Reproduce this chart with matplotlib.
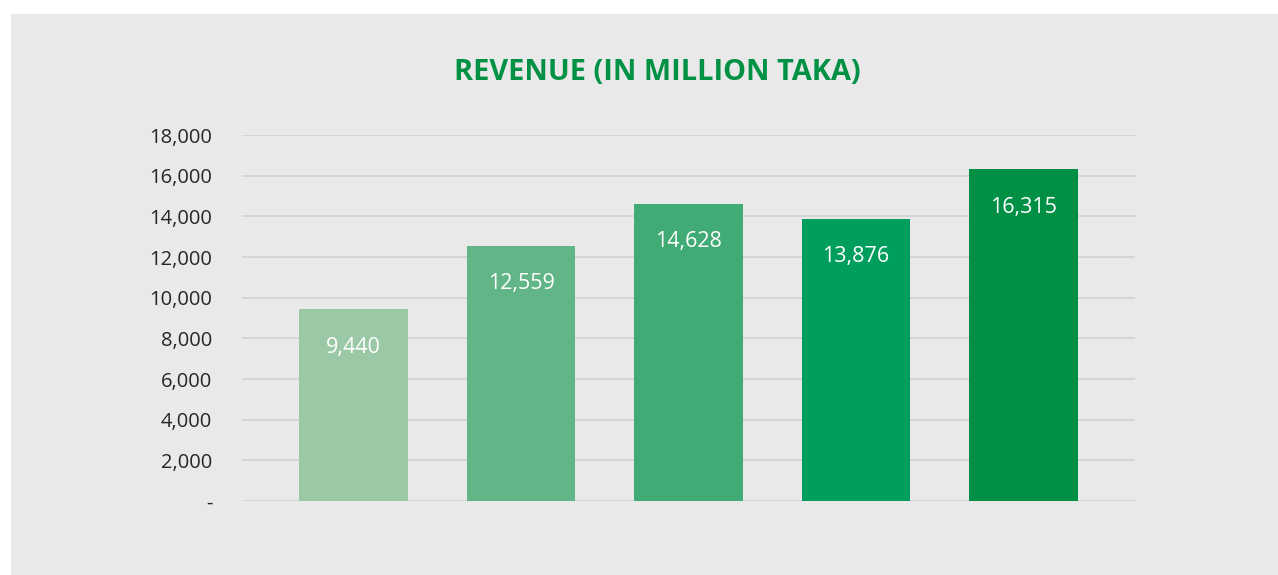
import matplotlib.pyplot as plt
from matplotlib.patches import Rectangle
from matplotlib.ticker import FuncFormatter

years = ['2015', '2016', '2017', '2018', '2019']
revenue = [9440, 12559, 14628, 13876, 16315]
bar_colors = ['#9BC9A6', '#61B586', '#41AB75', '#009E5D', '#009045']
yticks = [0, 2000, 4000, 6000, 8000, 10000, 12000, 14000, 16000, 18000]

plt.rcParams['font.family'] = ['Open Sans', 'DejaVu Sans']

W, H = 1278, 575
fig = plt.figure(figsize=(W / 100, H / 100), dpi=100, facecolor='white')

# gray panel behind the chart
fig.patches.append(Rectangle((11 / W, 0), 1 - 11 / W, 1 - 14 / H,
                             transform=fig.transFigure, facecolor='#E9E9E9',
                             edgecolor='none', zorder=-10))

ax = fig.add_axes([242 / W, 1 - 501 / H, (1135 - 242) / W, (501 - 135) / H])
ax.set_facecolor('none')

x = range(len(revenue))
ax.bar(x, revenue, width=0.65, color=bar_colors, zorder=3)
ax.set_xlim(-0.666, 4.666)
ax.set_ylim(0, 18000)

ax.set_yticks(yticks)
ax.yaxis.set_major_formatter(FuncFormatter(lambda v, p: '-' if v == 0 else f'{int(v):,}'))
ax.tick_params(axis='y', length=0, pad=21.5, labelsize=14.5, labelcolor='#262626')
ax.set_xticks([])
ax.grid(axis='y', color='#D0D0D0', linewidth=1.2, zorder=0)
for s in ax.spines.values():
    s.set_visible(False)

for i, v in enumerate(revenue):
    ax.annotate(f'{v:,}', (i, v), xytext=(0, -38), textcoords='offset pixels',
                ha='center', va='center', color='white', fontsize=15.5, zorder=4)

fig.text(657 / W, 1 - 73 / H, 'REVENUE (IN MILLION TAKA)', ha='center', va='center',
         color='#009145', fontsize=20.8, fontweight='bold')

fig.savefig('out.png', dpi=100, facecolor='white')
